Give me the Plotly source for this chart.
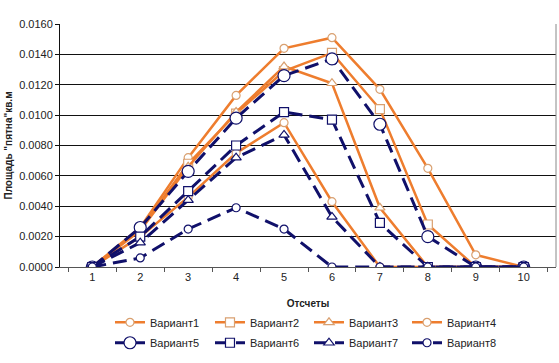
import plotly.graph_objects as go

categories = ["1", "2", "3", "4", "5", "6", "7", "8", "9", "10"]

variant1 = [0.0000, 0.0026, 0.0072, 0.0113, 0.0144, 0.0151, 0.0117, 0.0065, 0.0008, 0.0000]
variant2 = [0.0000, 0.0025, 0.0068, 0.0101, 0.0129, 0.0141, 0.0104, 0.0028, 0.0000, 0.0000]
variant3 = [0.0000, 0.0024, 0.0066, 0.0102, 0.0132, 0.0121, 0.0039, 0.0000, 0.0000, 0.0000]
variant4 = [0.0000, 0.0020, 0.0046, 0.0075, 0.0095, 0.0043, 0.0000, 0.0000, 0.0000, 0.0000]
variant5 = [0.0000, 0.0026, 0.0063, 0.0098, 0.0126, 0.0137, 0.0094, 0.0020, 0.0000, 0.0000]
variant6 = [0.0000, 0.0020, 0.0050, 0.0080, 0.0102, 0.0097, 0.0029, 0.0000, 0.0000, 0.0000]
variant7 = [0.0000, 0.0016, 0.0044, 0.0072, 0.0087, 0.0033, 0.0000, 0.0000, 0.0000, 0.0000]
variant8 = [0.0000, 0.0006, 0.0025, 0.0039, 0.0025, 0.0000, 0.0000, 0.0000, 0.0000, 0.0000]

names = ["Вариант1", "Вариант2", "Вариант3", "Вариант4",
         "Вариант5", "Вариант6", "Вариант7", "Вариант8"]
series = [variant1, variant2, variant3, variant4, variant5, variant6, variant7, variant8]
symbols = ["circle", "square", "triangle-up", "circle",
           "circle", "square", "triangle-up", "circle"]
sizes = [8, 9, 9, 8, 12, 9, 9, 8]

ORANGE = "#EE7D2E"
ORANGE_EDGE = "#D9A070"
NAVY = "#10106A"

# legend grid: 4 columns x 2 rows
col_x = [0.1008, 0.3024, 0.502, 0.6996]
row_y = [-0.168, -0.252]

fig = go.Figure()
legends = {}
for i, (name, ys) in enumerate(zip(names, series)):
    orange = i < 4
    key = "legend" if i == 0 else f"legend{i + 1}"
    fig.add_trace(go.Scatter(
        x=categories, y=ys, name=name, mode="lines+markers",
        legend=key,
        line=dict(color=ORANGE if orange else NAVY, width=2.5 if orange else 3,
                  dash="solid" if orange else "14px,7px"),
        marker=dict(symbol=symbols[i], size=sizes[i], color="white",
                    line=dict(color=ORANGE_EDGE if orange else NAVY, width=1.2)),
    ))
    legends[key] = dict(orientation="h", x=col_x[i % 4], y=row_y[i // 4],
                        xanchor="left", yanchor="top", font=dict(size=11),
                        itemwidth=30, bgcolor="rgba(0,0,0,0)")

fig.update_layout(
    width=559, height=363,
    margin=dict(l=60, r=3, t=24, b=96, autoexpand=False),
    paper_bgcolor="white", plot_bgcolor="white",
    font=dict(family="Liberation Sans, Arial, sans-serif", size=11, color="#222"),
    showlegend=True,
    xaxis=dict(type="category", tickson="boundaries", ticks="outside", ticklen=4,
               tickcolor="#555", showline=True, linecolor="#555", showgrid=False,
               title=dict(text="<b>Отсчеты</b>", font=dict(size=10), standoff=17),
               mirror=False),
    yaxis=dict(range=[0, 0.016], dtick=0.002, tickformat=".4f",
               showgrid=True, gridcolor="#111", gridwidth=1,
               showline=True, linecolor="#111", ticks="outside", ticklen=4,
               tickcolor="#111", zeroline=False,
               title=dict(text="<b>Площадь \"пятна\"кв.м</b>", font=dict(size=10), standoff=4)),
    **legends,
)
# right border of plot area
fig.add_shape(type="line", xref="paper", yref="paper", x0=1, x1=1, y0=0, y1=1,
              line=dict(color="#888", width=1))

fig.write_html("out.html", config={"displayModeBar": False},
               post_script="document.body.style.margin='0';")
